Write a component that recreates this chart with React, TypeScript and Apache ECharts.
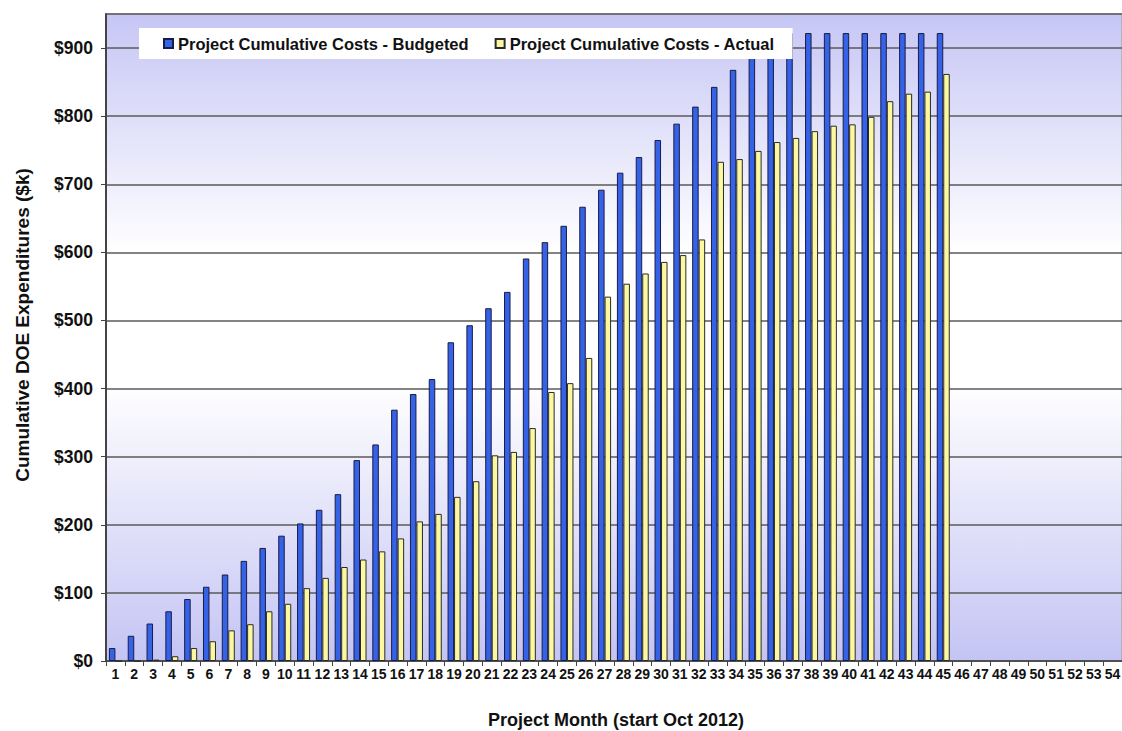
import React, { useEffect, useRef } from "react";
import * as echarts from "echarts";

const months: string[] = Array.from({ length: 54 }, (_, i) => String(i + 1));

const budgeted: number[] = [
  19, 37, 55, 73, 91, 109, 127, 147, 166, 184, 202, 222, 245, 295, 318, 369, 392, 414, 468, 493,
  518, 542, 591, 615, 639, 667, 692, 717, 740, 765, 789, 814, 843, 868, 893, 915, 922, 922, 922, 922,
  922, 922, 922, 922, 922,
];

const actual: number[] = [
  0, 0, 2, 7, 19, 29, 45, 54, 73, 84, 107, 122, 138, 149, 161, 180, 205, 216, 241, 264,
  302, 307, 342, 395, 408, 445, 535, 554, 569, 586, 596, 619, 733, 737, 749, 762, 768, 778, 786, 788,
  799, 822, 833, 836, 862,
];

const seriesNames = ["Project Cumulative Costs - Budgeted", "Project Cumulative Costs - Actual"];
const xTitle = "Project Month (start Oct 2012)";
const yTitle = "Cumulative DOE Expenditures ($k)";

const FONT = "'Liberation Sans', Arial, sans-serif";

export default function App() {
  const ref = useRef<HTMLDivElement>(null);
  useEffect(() => {
    if (!ref.current) return;
    const chart = echarts.init(ref.current, undefined, { renderer: "svg" });
    chart.setOption({
      animation: false,
      backgroundColor: "#ffffff",
      textStyle: { fontFamily: FONT },
      legend: {
        left: 139,
        top: 28,
        padding: [7, 18, 7, 24],
        backgroundColor: "#ffffff",
        itemWidth: 9,
        itemHeight: 9,
        itemGap: 26,
        icon: "rect",
        textStyle: { fontSize: 16.5, fontWeight: "bold", color: "#111", fontFamily: FONT },
        data: seriesNames,
      },
      grid: {
        left: 106,
        right: 0,
        top: 14,
        bottom: 70,
        outerBoundsMode: "none",
        show: true,
        borderColor: "#999",
        borderWidth: 1,
        backgroundColor: new echarts.graphic.LinearGradient(0, 0, 0, 1, [
          { offset: 0, color: "#c6c6f5" },
          { offset: 0.37, color: "#ffffff" },
          { offset: 0.57, color: "#ffffff" },
          { offset: 1, color: "#c4c4f4" },
        ]),
      },
      graphic: [
        {
          type: "text",
          x: 22,
          y: 325,
          rotation: Math.PI / 2,
          style: {
            text: yTitle,
            fontSize: 19,
            fontWeight: "bold",
            fontFamily: FONT,
            fill: "#111",
            align: "center",
            verticalAlign: "middle",
          },
        },
        {
          type: "text",
          x: 616,
          y: 720,
          style: {
            text: xTitle,
            fontSize: 18,
            fontWeight: "bold",
            fontFamily: FONT,
            fill: "#111",
            align: "center",
            verticalAlign: "middle",
          },
        },
      ],
      xAxis: {
        type: "category",
        data: months,
        axisLine: { lineStyle: { color: "#444", width: 1.5 } },
        axisTick: { show: true, length: 5, lineStyle: { color: "#444" } },
        axisLabel: {
          interval: 0,
          fontSize: 14,
          fontWeight: "bold",
          color: "#111",
          margin: 6,
          fontFamily: FONT,
        },
      },
      yAxis: {
        type: "value",
        min: 0,
        max: 950,
        interval: 100,
        axisLine: { show: true, lineStyle: { color: "#444", width: 2 } },
        axisTick: { show: true, length: 5, lineStyle: { color: "#444" } },
        splitLine: { show: true, lineStyle: { color: "#5a5a5a", width: 1.5 } },
        axisLabel: {
          showMaxLabel: false,
          fontSize: 17.5,
          fontWeight: "bold",
          color: "#111",
          margin: 13,
          fontFamily: FONT,
          formatter: (v: number) => (v > 900 ? "" : "$" + v),
        },
      },
      series: [
        {
          name: seriesNames[0],
          type: "bar",
          data: budgeted,
          barWidth: 6.5,
          barGap: "0%",
          itemStyle: { color: "#3463e6", borderColor: "#1b1b4a", borderWidth: 1 },
        },
        {
          name: seriesNames[1],
          type: "bar",
          data: actual,
          barWidth: 6.5,
          barGap: "0%",
          itemStyle: { color: "#fbf8a0", borderColor: "#2a2a2a", borderWidth: 1 },
        },
      ],
    });
    return () => chart.dispose();
  }, []);
  return (
    <div
      ref={ref}
      style={{ position: "fixed", left: 0, top: 0, width: 1122, height: 731 }}
    />
  );
}
